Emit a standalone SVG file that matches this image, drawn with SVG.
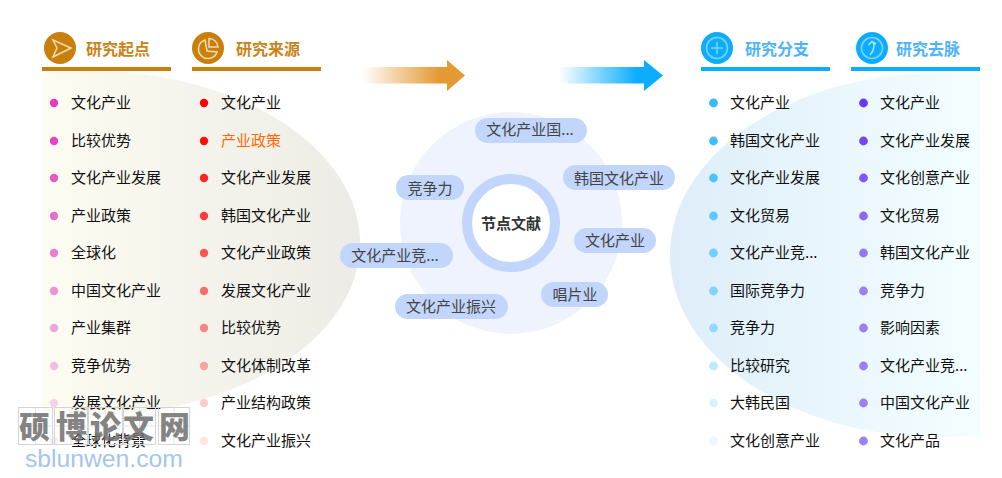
<svg xmlns="http://www.w3.org/2000/svg" width="1002" height="478" viewBox="0 0 1002 478">
<style>
text{font-family:"Noto Sans CJK SC","Liberation Sans",sans-serif}
.t{font-size:15px;fill:#111}
.h{font-size:16px;font-weight:700}
.o{fill:#c98418}.b{fill:#4db4fb}
.p{fill:#c2d6fb}
.pt{font-size:15px;fill:#444;text-anchor:middle}
.i{fill:none;stroke-width:1.6}
</style>
<defs>
<linearGradient id="gl" gradientUnits="userSpaceOnUse" x1="42" x2="360" y1="0" y2="0"><stop offset="0" stop-color="#fdfcf2"/><stop offset="1" stop-color="#ecebe5"/></linearGradient>
<linearGradient id="gr" gradientUnits="userSpaceOnUse" x1="670" x2="980" y1="0" y2="0"><stop offset="0" stop-color="#deedf9"/><stop offset="1" stop-color="#f3feff"/></linearGradient>
<linearGradient id="a1" x1="0" x2="1" y1="0" y2="0"><stop offset="0" stop-color="#e39a33" stop-opacity="0"/><stop offset=".75" stop-color="#e39a33"/></linearGradient>
<linearGradient id="a2" x1="0" x2="1" y1="0" y2="0"><stop offset="0" stop-color="#0cadff" stop-opacity="0"/><stop offset=".75" stop-color="#0cadff"/></linearGradient>
<clipPath id="cl"><rect x="42" y="70" width="330" height="370"/></clipPath>
<clipPath id="cr"><rect x="660" y="70" width="320" height="370"/></clipPath>
</defs>
<g id="backgrounds">
<ellipse cx="90" cy="243" rx="270" ry="172" fill="url(#gl)" clip-path="url(#cl)"/>
<ellipse cx="940" cy="255" rx="270" ry="182" fill="url(#gr)" clip-path="url(#cr)"/>
<circle cx="511" cy="223" r="111" fill="#eef3fd"/>
</g>
<g id="arrows">
<path d="M362 67H447V60L465 75.500L447 91V83.500H362Z" fill="url(#a1)"/>
<path d="M559 67H644V60L663 75.500L644 91V83.500H559Z" fill="url(#a2)"/>
</g>
<g id="col1">
<circle cx="60" cy="48" r="16" fill="#c97f0c"/>
<path class="i" stroke="#f3d9ae" d="M53 40L71 48L53 57L57 48Z"/>
<text class="h o" x="86" y="55">研究起点</text>
<rect x="42" y="67" width="129" height="4" fill="#c97f0c"/>
<g fill="#e03cc0">
<circle cx="54" cy="103" r="4.200"/><circle cx="54" cy="141" r="4.200" opacity=".95"/><circle cx="54" cy="178" r="4.200" opacity=".85"/><circle cx="54" cy="216" r="4.200" opacity=".75"/><circle cx="54" cy="253" r="4.200" opacity=".65"/><circle cx="54" cy="291" r="4.200" opacity=".55"/><circle cx="54" cy="328" r="4.200" opacity=".45"/><circle cx="54" cy="366" r="4.200" opacity=".32"/><circle cx="54" cy="403" r="4.200" opacity=".2"/><circle cx="54" cy="441" r="4.200" opacity=".1"/>
</g>
<text class="t" x="71" y="108">文化产业</text><text class="t" x="71" y="146">比较优势</text><text class="t" x="71" y="183">文化产业发展</text><text class="t" x="71" y="221">产业政策</text><text class="t" x="71" y="258">全球化</text><text class="t" x="71" y="296">中国文化产业</text><text class="t" x="71" y="333">产业集群</text><text class="t" x="71" y="371">竞争优势</text><text class="t" x="71" y="408">发展文化产业</text><text class="t" x="71" y="446">全球化背景</text>
</g>
<g id="col2">
<circle cx="208" cy="48" r="16" fill="#c97f0c"/>
<path class="i" stroke="#f3d9ae" d="M205 40A9.500 9.500 0 1 0 217 52L207 51ZM209 38.500A9 9 0 0 1 218 47H209Z"/>
<text class="h o" x="236" y="55">研究来源</text>
<rect x="192" y="67" width="129" height="4" fill="#c97f0c"/>
<g fill="#ff0000">
<circle cx="204" cy="103" r="4.200"/><circle cx="204" cy="141" r="4.200" opacity=".95"/><circle cx="204" cy="178" r="4.200" opacity=".85"/><circle cx="204" cy="216" r="4.200" opacity=".75"/><circle cx="204" cy="253" r="4.200" opacity=".65"/><circle cx="204" cy="291" r="4.200" opacity=".55"/><circle cx="204" cy="328" r="4.200" opacity=".45"/><circle cx="204" cy="366" r="4.200" opacity=".32"/><circle cx="204" cy="403" r="4.200" opacity=".2"/><circle cx="204" cy="441" r="4.200" opacity=".1"/>
</g>
<text class="t" x="221" y="108">文化产业</text><text class="t" x="221" y="146" style="fill:#ff6a00">产业政策</text><text class="t" x="221" y="183">文化产业发展</text><text class="t" x="221" y="221">韩国文化产业</text><text class="t" x="221" y="258">文化产业政策</text><text class="t" x="221" y="296">发展文化产业</text><text class="t" x="221" y="333">比较优势</text><text class="t" x="221" y="371">文化体制改革</text><text class="t" x="221" y="408">产业结构政策</text><text class="t" x="221" y="446">文化产业振兴</text>
</g>
<g id="center">
<g id="pill1"><rect class="p" x="475" y="118" width="112" height="25" rx="12.500"/><text class="pt" x="530" y="135">文化产业国...</text></g>
<g id="pill2"><rect class="p" x="563" y="165" width="112" height="25" rx="12.500"/><text class="pt" x="619" y="184">韩国文化产业</text></g>
<g id="pill3"><rect class="p" x="396" y="175" width="68" height="25" rx="12.500"/><text class="pt" x="430" y="194">竞争力</text></g>
<g id="pill4"><rect class="p" x="574" y="228" width="82" height="25" rx="12.500"/><text class="pt" x="615" y="246">文化产业</text></g>
<g id="pill5"><rect class="p" x="340" y="243" width="113" height="25" rx="12.500"/><text class="pt" x="395" y="261">文化产业竞...</text></g>
<g id="pill6"><rect class="p" x="541" y="282" width="67" height="25" rx="12.500"/><text class="pt" x="575" y="300">唱片业</text></g>
<g id="pill7"><rect class="p" x="395" y="294" width="113" height="25" rx="12.500"/><text class="pt" x="451" y="312">文化产业振兴</text></g>
<g id="hub"><circle cx="511" cy="223" r="44" fill="#fff" stroke="#c2d6fb" stroke-width="10"/><text x="511" y="229" text-anchor="middle" font-size="15" font-weight="700" fill="#333">节点文献</text></g>
</g>
<g id="col3">
<circle cx="717" cy="48" r="16" fill="#0cadff"/>
<circle cx="717" cy="48" r="10.500" class="i" stroke="#7fd0f8"/><path class="i" stroke="#7fd0f8" d="M711 48H723M717 42V54"/>
<text class="h b" x="745" y="55">研究分支</text>
<rect x="701" y="67" width="129" height="4" fill="#0cadff"/>
<g fill="#33bbff">
<circle cx="713.500" cy="103" r="4.400"/><circle cx="713.500" cy="141" r="4.400" opacity=".95"/><circle cx="713.500" cy="178" r="4.400" opacity=".85"/><circle cx="713.500" cy="216" r="4.400" opacity=".75"/><circle cx="713.500" cy="253" r="4.400" opacity=".65"/><circle cx="713.500" cy="291" r="4.400" opacity=".55"/><circle cx="713.500" cy="328" r="4.400" opacity=".45"/><circle cx="713.500" cy="366" r="4.400" opacity=".32"/><circle cx="713.500" cy="403" r="4.400" opacity=".2"/><circle cx="713.500" cy="441" r="4.400" opacity=".1"/>
</g>
<text class="t" x="730" y="108">文化产业</text><text class="t" x="730" y="146">韩国文化产业</text><text class="t" x="730" y="183">文化产业发展</text><text class="t" x="730" y="221">文化贸易</text><text class="t" x="730" y="258">文化产业竞...</text><text class="t" x="730" y="296">国际竞争力</text><text class="t" x="730" y="333">竞争力</text><text class="t" x="730" y="371">比较研究</text><text class="t" x="730" y="408">大韩民国</text><text class="t" x="730" y="446">文化创意产业</text>
</g>
<g id="col4">
<circle cx="872" cy="48" r="16" fill="#0cadff"/>
<circle cx="872" cy="48" r="10.500" class="i" stroke="#7fd0f8"/><path class="i" stroke="#a8e0fb" d="M870 55Q876 48 873 42M868.500 45L872 41.500L876 44"/>
<text class="h b" x="896" y="55">研究去脉</text>
<rect x="851" y="67" width="129" height="4" fill="#0cadff"/>
<g>
<circle cx="863.500" cy="103" r="4.400" fill="#6a36ff"/><circle cx="863.500" cy="141" r="4.400" fill="#7347fa"/><circle cx="863.500" cy="178" r="4.400" fill="#7f58f8"/><circle cx="863.500" cy="216" r="4.400" fill="#8a68f7"/><circle cx="863.500" cy="253" r="4.400" fill="#9377f6"/><circle cx="863.500" cy="291" r="4.400" fill="#9a7ff5"/><circle cx="863.500" cy="328" r="4.400" fill="#9a7ff5"/><circle cx="863.500" cy="366" r="4.400" fill="#9a7ff5"/><circle cx="863.500" cy="403" r="4.400" fill="#9a7ff5"/><circle cx="863.500" cy="441" r="4.400" fill="#9a7ff5"/>
</g>
<text class="t" x="880" y="108">文化产业</text><text class="t" x="880" y="146">文化产业发展</text><text class="t" x="880" y="183">文化创意产业</text><text class="t" x="880" y="221">文化贸易</text><text class="t" x="880" y="258">韩国文化产业</text><text class="t" x="880" y="296">竞争力</text><text class="t" x="880" y="333">影响因素</text><text class="t" x="880" y="371">文化产业竞...</text><text class="t" x="880" y="408">中国文化产业</text><text class="t" x="880" y="446">文化产品</text>
</g>
<g id="watermark">
<g fill="none" stroke="#d4d4d4"><rect x="18.500" y="407.500" width="34" height="37"/><rect x="54.500" y="407.500" width="33" height="37"/><rect x="88.500" y="407.500" width="34" height="37"/><rect x="123.500" y="407.500" width="32" height="37"/><rect x="158.500" y="407.500" width="31" height="37"/><path stroke="#e4e4e4" d="M35.500 408V444M71 408V444M105.500 408V444M139.500 408V444M174 408V444M19 426H189"/></g>
<text x="19 56 90 123 159" y="438" font-size="31" font-weight="900" fill="#6e6e6e" fill-opacity=".85">硕博论文网</text>
<text x="25" y="467" style="font-family:'Liberation Sans',sans-serif" font-size="24.700" fill="#a3c6ec">sblunwen.com</text>
</g>
</svg>
